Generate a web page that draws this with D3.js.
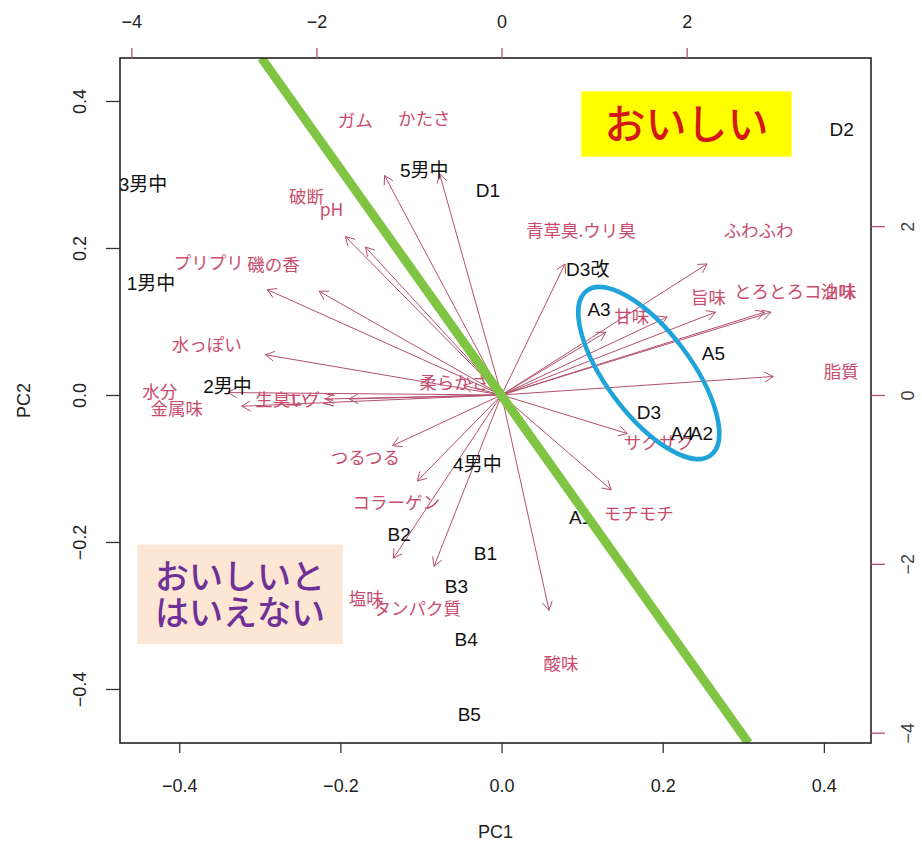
<!DOCTYPE html>
<html><head><meta charset="utf-8">
<script src="https://cdn.jsdelivr.net/npm/d3@7/dist/d3.min.js"></script>
<style>
body{margin:0;background:#fff}
text{font-family:"Liberation Sans",Arial,"Noto Sans CJK JP",sans-serif}
</style>
</head><body>
<svg id="chart" width="922" height="845"></svg>
<script>
// Sample scores on PC1 / PC2
const sampleNames = ["3男中","1男中","5男中","D1","D2","D3改","A3","A5","D3","A4","A2","2男中","4男中","A1","B2","B1","B3","B4","B5"];
const samplePC1 = [-0.445,-0.435,-0.096,-0.017,0.422,0.107,0.121,0.263,0.183,0.224,0.248,-0.340,-0.030,0.098,-0.127,-0.020,-0.056,-0.044,-0.040];
const samplePC2 = [0.286,0.152,0.305,0.278,0.361,0.171,0.117,0.056,-0.023,-0.052,-0.052,0.012,-0.095,-0.167,-0.190,-0.215,-0.260,-0.333,-0.434];

// Variable loadings (secondary axes)
const varNames = ["ガム","かたさ","破断","pH","プリプリ","磯の香","水っぽい","水分","金属味","生臭い","エグミ","柔らかさ","つるつる","コラーゲン","塩味","タンパク質","酸味","モチモチ","サクサク","脂質","コク味","油味","とろとろ","旨味","甘味","ふわふわ","青草臭.ウリ臭"];
const varPC1 = [-1.580,-0.836,-2.108,-1.838,-3.164,-2.464,-3.186,-3.693,-3.509,-2.377,-2.054,-0.512,-1.472,-1.137,-1.461,-0.911,0.642,1.482,1.698,3.671,3.552,3.639,2.890,2.237,1.407,2.776,0.857];
const varPC2 = [3.250,3.274,2.345,2.190,1.560,1.536,0.595,0.036,-0.167,-0.060,-0.060,0.143,-0.750,-1.274,-2.417,-2.536,-3.190,-1.405,-0.571,0.274,1.226,1.226,1.226,1.155,0.929,1.940,1.940];

// Axis ticks
const pcTicks = [-0.4,-0.2,0.0,0.2,0.4];
const loadTicks = [-4,-2,0,2];

// Shared plotting range for both PCs, and ratio between loading and score scales
const pcLimits = [-0.4735, 0.4585];
const loadRatio = 8.706;

// Dividing line and highlight group (in score units)
const dividerPC1 = [-0.298, 0.3065];
const dividerPC2 = [0.4585, -0.4735];
const groupCenter = [0.1827, 0.0299];

// Region annotations
const notes = [
  {lines:["おいしい"], color:"#d41818", fill:"#ffff00", box:[0.099,0.4130,0.360,0.3243], size:41},
  {lines:["おいしいと","はいえない"], color:"#6f3198", fill:"#fde6d3", box:[-0.452,-0.2035,-0.197,-0.3390], size:34}
];

const svg = d3.select("#chart");
const L = 120, R = 871, T = 58, B = 743;

const x = d3.scaleLinear().domain(pcLimits).range([L, R]);
const y = d3.scaleLinear().domain(pcLimits).range([B, T]);
const x2 = d3.scaleLinear().domain(pcLimits.map(v => v * loadRatio)).range([L, R]);
const y2 = d3.scaleLinear().domain(pcLimits.map(v => v * loadRatio)).range([B, T]);

svg.append("defs").append("clipPath").attr("id", "plotClip")
  .append("rect").attr("x", L).attr("y", T).attr("width", R - L).attr("height", B - T);

const plot = svg.append("g").attr("clip-path", "url(#plotClip)");

// Variable arrows (drawn to 0.8 of the label position) with open heads
const arrowCol = "#b4506e";
const labelCol = "#c84d6d";
const ox = x2(0), oy = y2(0);
const arrows = plot.append("g");
varNames.forEach((n, i) => {
  const tx = x2(varPC1[i] * 0.8), ty = y2(varPC2[i] * 0.8);
  arrows.append("line").attr("x1", ox).attr("y1", oy).attr("x2", tx).attr("y2", ty)
    .attr("stroke", arrowCol).attr("stroke-width", 1);
  const ang = Math.atan2(ty - oy, tx - ox);
  const hl = 10, ha = Math.PI / 6;
  [ang + Math.PI - ha, ang + Math.PI + ha].forEach(a => {
    arrows.append("line").attr("x1", tx).attr("y1", ty)
      .attr("x2", tx + hl * Math.cos(a)).attr("y2", ty + hl * Math.sin(a))
      .attr("stroke", arrowCol).attr("stroke-width", 1);
  });
});

// Variable labels
plot.append("g").selectAll("text").data(varNames).join("text")
  .attr("x", (d, i) => x2(varPC1[i])).attr("y", (d, i) => y2(varPC2[i]))
  .attr("dy", "0.35em").attr("text-anchor", "middle")
  .attr("fill", labelCol).attr("font-size", 17.5)
  .style("font-family", '"Noto Sans CJK JP","Liberation Sans",sans-serif')
  .text(d => d);

// Sample labels
plot.append("g").selectAll("text").data(sampleNames).join("text")
  .attr("x", (d, i) => x(samplePC1[i])).attr("y", (d, i) => y(samplePC2[i]))
  .attr("dy", "0.35em").attr("text-anchor", "middle")
  .attr("fill", "#111").attr("font-size", 19)
  .style("font-family", '"Liberation Sans","Noto Sans CJK JP",sans-serif')
  .text(d => d);

// Highlight ellipse around the A group
plot.append("ellipse")
  .attr("transform", `translate(${x(groupCenter[0])},${y(groupCenter[1])}) rotate(53)`)
  .attr("rx", 103).attr("ry", 42)
  .attr("fill", "none").attr("stroke", "#1fa3d9").attr("stroke-width", 4.5);

// Dividing line
plot.append("line")
  .attr("x1", x(dividerPC1[0])).attr("y1", y(dividerPC2[0]))
  .attr("x2", x(dividerPC1[1])).attr("y2", y(dividerPC2[1]))
  .attr("stroke", "#7fc443").attr("stroke-width", 9);

// Annotation boxes
notes.forEach(nt => {
  const bx0 = x(nt.box[0]), bx1 = x(nt.box[2]), by0 = y(nt.box[1]), by1 = y(nt.box[3]);
  svg.append("rect").attr("x", bx0).attr("y", by0).attr("width", bx1 - bx0).attr("height", by1 - by0)
    .attr("fill", nt.fill);
  const cy = (by0 + by1) / 2, lh = nt.size * 1.06;
  nt.lines.forEach((t, k) => {
    svg.append("text").attr("x", (bx0 + bx1) / 2)
      .attr("y", cy + (k - (nt.lines.length - 1) / 2) * lh)
      .attr("dy", "0.36em").attr("text-anchor", "middle")
      .attr("fill", nt.color).attr("font-size", nt.size).attr("font-weight", 500)
      .style("font-family", '"Noto Sans CJK JP",sans-serif')
      .text(t);
  });
});

// Frame
svg.append("rect").attr("x", L).attr("y", T).attr("width", R - L).attr("height", B - T)
  .attr("fill", "none").attr("stroke", "#222").attr("stroke-width", 1.6);

const fmt = d3.format(".1f");
function styleAxis(g, tickCol) {
  g.select(".domain").remove();
  g.selectAll(".tick line").attr("stroke", tickCol).attr("stroke-width", 1.3);
  g.selectAll(".tick text").attr("font-size", 18).attr("fill", "#222")
    .style("font-family", '"Liberation Sans",Arial,sans-serif');
}

// Bottom: PC1 scores
svg.append("g").attr("transform", `translate(0,${B})`)
  .call(d3.axisBottom(x).tickValues(pcTicks).tickFormat(fmt).tickSize(10).tickPadding(26))
  .call(g => styleAxis(g, "#333"));

// Left: PC2 scores, labels parallel to the axis
svg.append("g").attr("transform", `translate(${L},0)`)
  .call(d3.axisLeft(y).tickValues(pcTicks).tickFormat(fmt).tickSize(14))
  .call(g => styleAxis(g, "#333"))
  .call(g => g.selectAll(".tick text").attr("x", null).attr("dy", null)
    .attr("text-anchor", "middle").attr("transform", "translate(-34,0) rotate(-90)"));

// Top: loadings on PC1
svg.append("g").attr("transform", `translate(0,${T})`)
  .call(d3.axisTop(x2).tickValues(loadTicks).tickSize(10).tickPadding(20))
  .call(g => styleAxis(g, "#b4506e"));

// Right: loadings on PC2
svg.append("g").attr("transform", `translate(${R},0)`)
  .call(d3.axisRight(y2).tickValues(loadTicks).tickSize(14))
  .call(g => styleAxis(g, "#b4506e"))
  .call(g => g.selectAll(".tick text").attr("x", null).attr("dy", null).attr("fill", "#444")
    .attr("text-anchor", "middle").attr("transform", "translate(43,0) rotate(-90)"));

// Axis titles
svg.append("text").attr("x", (L + R) / 2).attr("y", 838).attr("text-anchor", "middle")
  .attr("font-size", 18).attr("fill", "#222").text("PC1");
svg.append("text").attr("transform", `translate(30,${(T + B) / 2}) rotate(-90)`)
  .attr("text-anchor", "middle").attr("font-size", 18).attr("fill", "#222").text("PC2");
</script>
</body></html>
